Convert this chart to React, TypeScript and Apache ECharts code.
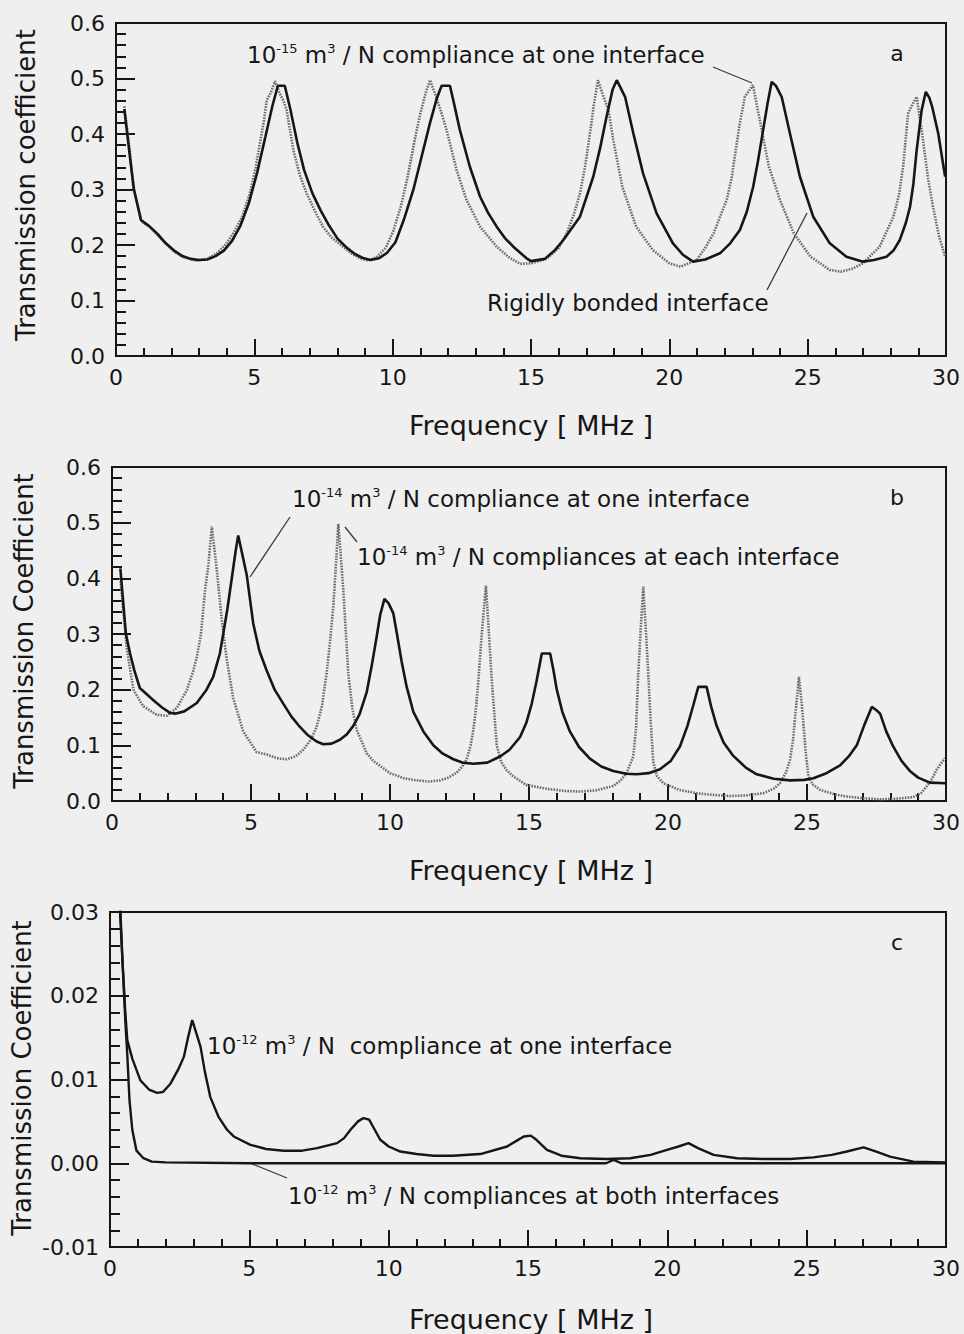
import React, { useEffect, useRef } from "react";
import * as echarts from "echarts";

// ---------- Panel a : 10^-15 compliance (dotted) vs rigidly bonded (solid) ----------
const aRigid: [number, number][] = [
  [0.3, 0.445], [0.5, 0.36], [0.65, 0.3], [0.9, 0.245], [1.2, 0.234], [1.5, 0.22], [1.8, 0.203],
  [2.1, 0.19], [2.4, 0.18], [2.7, 0.175], [3.0, 0.173], [3.3, 0.174], [3.6, 0.18], [3.9, 0.19],
  [4.2, 0.208], [4.5, 0.235], [4.8, 0.275], [5.1, 0.33], [5.4, 0.395], [5.65, 0.45], [5.85, 0.487],
  [6.1, 0.487], [6.3, 0.445], [6.55, 0.385], [6.8, 0.335], [7.1, 0.293], [7.4, 0.262], [7.7, 0.235],
  [8.0, 0.212], [8.3, 0.197], [8.6, 0.185], [8.9, 0.177], [9.2, 0.173], [9.5, 0.176], [9.8, 0.186],
  [10.1, 0.205], [10.4, 0.245], [10.75, 0.3], [11.05, 0.36], [11.35, 0.42], [11.6, 0.465], [11.77, 0.487],
  [12.07, 0.487], [12.19, 0.461], [12.43, 0.407], [12.79, 0.341], [13.16, 0.287], [13.45, 0.258],
  [13.76, 0.233], [14.05, 0.213], [14.36, 0.197], [14.84, 0.176], [15.0, 0.171], [15.5, 0.175],
  [15.85, 0.19], [16.17, 0.209], [16.77, 0.251], [17.25, 0.323], [17.5, 0.375], [17.73, 0.431],
  [17.95, 0.48], [18.1, 0.497], [18.4, 0.467], [18.7, 0.401], [19.05, 0.329], [19.54, 0.257],
  [20.13, 0.203], [20.5, 0.182], [20.86, 0.17], [21.3, 0.174], [21.83, 0.185], [22.2, 0.203],
  [22.55, 0.227], [22.8, 0.26], [23.03, 0.305], [23.2, 0.35], [23.39, 0.407], [23.55, 0.455],
  [23.7, 0.494], [23.85, 0.487], [24.06, 0.467], [24.36, 0.401], [24.72, 0.323], [25.2, 0.251],
  [25.8, 0.203], [26.4, 0.179], [27.0, 0.17], [27.4, 0.173], [27.85, 0.179], [28.1, 0.19],
  [28.33, 0.209], [28.55, 0.24], [28.7, 0.269], [28.82, 0.31], [28.94, 0.371], [29.05, 0.415],
  [29.12, 0.443], [29.27, 0.476], [29.4, 0.465], [29.5, 0.449], [29.72, 0.401], [29.85, 0.36],
  [29.97, 0.323],
];
const aCompliance: [number, number][] = [
  [0.3, 0.45], [0.5, 0.37], [0.62, 0.305], [0.93, 0.242], [1.23, 0.232], [1.5, 0.218], [1.83, 0.201],
  [2.1, 0.188], [2.43, 0.178], [2.9, 0.172], [3.3, 0.175], [3.64, 0.185], [3.95, 0.2], [4.24, 0.221],
  [4.55, 0.25], [4.84, 0.293], [5.05, 0.34], [5.2, 0.383], [5.35, 0.425], [5.45, 0.461], [5.6, 0.475],
  [5.75, 0.495], [5.9, 0.475], [6.05, 0.46], [6.17, 0.443], [6.41, 0.371], [6.65, 0.325],
  [6.89, 0.293], [7.2, 0.26], [7.48, 0.233], [7.8, 0.213], [8.2, 0.197], [8.5, 0.185], [8.82, 0.176],
  [9.1, 0.172], [9.42, 0.178], [9.75, 0.195], [10.02, 0.225], [10.3, 0.27], [10.55, 0.325], [10.8, 0.39],
  [11.0, 0.437], [11.2, 0.475], [11.35, 0.497], [11.55, 0.47], [11.75, 0.44], [11.95, 0.407],
  [12.31, 0.335], [12.67, 0.281], [13.16, 0.233], [13.76, 0.197], [14.2, 0.178], [14.6, 0.166],
  [15.0, 0.167], [15.56, 0.175], [16.0, 0.195], [16.29, 0.221], [16.55, 0.255], [16.77, 0.293],
  [16.95, 0.34], [17.13, 0.401], [17.28, 0.455], [17.42, 0.497], [17.6, 0.47], [17.8, 0.443],
  [17.97, 0.39], [18.3, 0.305], [18.8, 0.233], [19.4, 0.191], [20.0, 0.167], [20.4, 0.161],
  [20.99, 0.173], [21.3, 0.195], [21.6, 0.221], [22.07, 0.281], [22.25, 0.32], [22.4, 0.371],
  [22.55, 0.42], [22.73, 0.467], [23.02, 0.488], [23.27, 0.425], [23.6, 0.341], [24.0, 0.281],
  [24.5, 0.221], [25.1, 0.179], [25.8, 0.155], [26.2, 0.152], [26.6, 0.157], [27.0, 0.167],
  [27.6, 0.197], [28.1, 0.251], [28.3, 0.29], [28.45, 0.341], [28.63, 0.437], [28.8, 0.455],
  [28.94, 0.467], [29.17, 0.389], [29.35, 0.32], [29.53, 0.269], [29.75, 0.215], [29.97, 0.179],
];

// ---------- Panel b : 10^-14 at one interface (solid) / at each interface (dotted) ----------
const bOne: [number, number][] = [
  [0.3, 0.418], [0.5, 0.3], [0.65, 0.265], [0.8, 0.235], [1.0, 0.203], [1.49, 0.181], [1.8, 0.168],
  [2.1, 0.158], [2.3, 0.157], [2.6, 0.161], [3.05, 0.176], [3.4, 0.2], [3.64, 0.223], [3.88, 0.265],
  [4.0, 0.3], [4.15, 0.345], [4.3, 0.397], [4.45, 0.45], [4.54, 0.477], [4.7, 0.44], [4.85, 0.405],
  [5.08, 0.319], [5.3, 0.27], [5.56, 0.235], [5.85, 0.2], [6.16, 0.175], [6.45, 0.152], [6.76, 0.133],
  [7.05, 0.118], [7.36, 0.107], [7.6, 0.102], [7.9, 0.103], [8.2, 0.11], [8.45, 0.12], [8.68, 0.135],
  [8.9, 0.155], [9.16, 0.195], [9.35, 0.245], [9.52, 0.295], [9.65, 0.335], [9.8, 0.363],
  [9.95, 0.355], [10.12, 0.337], [10.25, 0.3], [10.42, 0.25], [10.6, 0.205], [10.84, 0.16],
  [11.2, 0.125], [11.56, 0.1], [11.9, 0.085], [12.28, 0.075], [12.6, 0.069], [13.0, 0.067],
  [13.5, 0.069], [13.96, 0.08], [14.3, 0.092], [14.68, 0.115], [14.9, 0.14], [15.1, 0.175],
  [15.27, 0.215], [15.46, 0.265], [15.76, 0.265], [15.88, 0.235], [16.0, 0.2], [16.2, 0.16],
  [16.47, 0.125], [16.8, 0.097], [17.19, 0.076], [17.6, 0.062], [18.03, 0.054], [18.5, 0.049],
  [18.87, 0.048], [19.3, 0.05], [19.71, 0.057], [20.1, 0.072], [20.43, 0.098], [20.7, 0.135],
  [20.91, 0.172], [21.09, 0.205], [21.39, 0.205], [21.55, 0.17], [21.75, 0.135], [22.0, 0.105],
  [22.35, 0.081], [22.8, 0.06], [23.19, 0.048], [23.8, 0.04], [24.39, 0.037], [24.9, 0.038],
  [25.23, 0.041], [25.7, 0.05], [26.19, 0.064], [26.5, 0.08], [26.79, 0.1], [27.05, 0.135],
  [27.33, 0.169], [27.5, 0.163], [27.63, 0.157], [27.85, 0.125], [28.1, 0.098], [28.4, 0.072],
  [28.7, 0.054], [29.0, 0.042], [29.42, 0.033], [30.0, 0.032],
];
const bEach: [number, number][] = [
  [0.3, 0.4], [0.53, 0.275], [0.77, 0.2], [1.0, 0.18], [1.13, 0.17], [1.6, 0.155], [1.97, 0.153],
  [2.33, 0.167], [2.69, 0.199], [2.9, 0.23], [3.05, 0.258], [3.2, 0.3], [3.35, 0.38], [3.47, 0.425],
  [3.59, 0.493], [3.77, 0.415], [3.95, 0.325], [4.13, 0.253], [4.36, 0.185], [4.72, 0.125],
  [5.2, 0.088], [5.6, 0.083], [5.92, 0.077], [6.28, 0.075], [6.6, 0.08], [6.88, 0.092], [7.15, 0.11],
  [7.36, 0.133], [7.55, 0.17], [7.72, 0.229], [7.85, 0.29], [7.96, 0.349], [8.05, 0.42],
  [8.14, 0.498], [8.23, 0.44], [8.32, 0.379], [8.5, 0.229], [8.65, 0.165], [8.8, 0.128],
  [9.16, 0.086], [9.4, 0.072], [10.0, 0.05], [10.5, 0.041], [10.96, 0.037], [11.4, 0.035],
  [11.8, 0.037], [12.1, 0.042], [12.4, 0.051], [12.6, 0.062], [12.76, 0.075], [12.9, 0.1],
  [13.0, 0.128], [13.1, 0.17], [13.18, 0.217], [13.3, 0.3], [13.45, 0.387], [13.56, 0.3],
  [13.66, 0.217], [13.84, 0.1], [14.0, 0.07], [14.2, 0.055], [14.44, 0.044], [14.9, 0.029],
  [15.64, 0.022], [16.3, 0.018], [16.83, 0.017], [17.4, 0.019], [18.03, 0.027], [18.3, 0.037],
  [18.51, 0.05], [18.75, 0.08], [18.85, 0.13], [18.93, 0.229], [19.02, 0.31], [19.11, 0.385],
  [19.2, 0.31], [19.29, 0.229], [19.38, 0.14], [19.47, 0.07], [19.6, 0.045], [19.83, 0.032],
  [20.4, 0.02], [21.03, 0.014], [21.6, 0.011], [22.23, 0.009], [22.8, 0.01], [23.43, 0.014],
  [23.8, 0.022], [24.03, 0.032], [24.25, 0.052], [24.39, 0.074], [24.5, 0.11], [24.57, 0.151],
  [24.65, 0.19], [24.71, 0.223], [24.8, 0.18], [24.87, 0.139], [24.95, 0.09], [25.05, 0.044],
  [25.2, 0.03], [25.47, 0.02], [26.0, 0.012], [26.43, 0.008], [27.0, 0.005], [27.63, 0.003],
  [28.2, 0.004], [28.82, 0.007], [29.1, 0.014], [29.3, 0.026], [29.5, 0.04], [29.66, 0.056],
  [29.8, 0.066], [29.96, 0.077],
];

// ---------- Panel c : 10^-12 at one interface / at both interfaces ----------
const cOne: [number, number][] = [
  [0.3, 0.034], [0.45, 0.024], [0.55, 0.018], [0.62, 0.0147], [0.8, 0.0125], [1.09, 0.0099],
  [1.4, 0.0088], [1.69, 0.0084], [1.9, 0.0085], [2.17, 0.0095], [2.45, 0.0112], [2.65, 0.0127],
  [2.8, 0.015], [2.95, 0.0171], [3.1, 0.0155], [3.25, 0.0139], [3.4, 0.011], [3.6, 0.0079],
  [3.9, 0.0055], [4.2, 0.004], [4.44, 0.0032], [5.04, 0.0022], [5.6, 0.0017], [6.23, 0.0015],
  [6.9, 0.0015], [7.43, 0.0018], [8.15, 0.0024], [8.4, 0.003], [8.63, 0.004], [8.9, 0.005],
  [9.1, 0.0054], [9.3, 0.0052], [9.5, 0.004], [9.7, 0.0028], [10.0, 0.002], [10.42, 0.0014],
  [11.0, 0.0011], [11.61, 0.0009], [12.3, 0.0009], [13.29, 0.0011], [14.25, 0.002], [14.6, 0.0027],
  [14.85, 0.0032], [15.1, 0.0033], [15.3, 0.0028], [15.68, 0.0016], [16.2, 0.0009], [16.88, 0.0006],
  [17.8, 0.0005], [18.67, 0.0006], [19.4, 0.001], [19.99, 0.0016], [20.4, 0.002], [20.76, 0.0024],
  [21.1, 0.0018], [21.66, 0.001], [22.5, 0.0006], [23.45, 0.0005], [24.4, 0.0005], [25.24, 0.0007],
  [25.9, 0.001], [26.44, 0.0014], [27.04, 0.0019], [27.5, 0.0014], [27.99, 0.0008], [28.83, 0.0002],
  [30.0, 0.0001],
];
const cBoth: [number, number][] = [
  [0.3, 0.036], [0.45, 0.024], [0.55, 0.017], [0.62, 0.013], [0.7, 0.0075], [0.8, 0.004],
  [0.95, 0.0015], [1.2, 0.0006], [1.5, 0.0002], [2.0, 0.0001], [5.0, 0.0], [10.0, 0.0], [15.0, 0.0],
  [17.8, 0.0], [18.07, 0.0004], [18.35, 0.0], [22.0, 0.0], [26.0, 0.0], [30.0, 0.0],
];

const FONT = '"DejaVu Sans", "Liberation Sans", sans-serif';
const INK = "#161616";
const GRAYDOT = "#6c6c6c";

const grids = [
  { left: 116, top: 23, width: 830, height: 333 },
  { left: 112, top: 467, width: 834, height: 334 },
  { left: 110, top: 912, width: 836, height: 335 },
];
const yRanges = [
  { min: 0, max: 0.6, interval: 0.1, digits: 1 },
  { min: 0, max: 0.6, interval: 0.1, digits: 1 },
  { min: -0.01, max: 0.03, interval: 0.01, digits: 2 },
];

export default function App() {
  const ref = useRef<HTMLDivElement>(null);
  useEffect(() => {
    if (!ref.current) return;
    const chart = echarts.init(ref.current, undefined, { renderer: "svg" });

    const xAxes = grids.map((_, i) => ({
      type: "value",
      gridIndex: i,
      min: 0,
      max: 30,
      interval: 5,
      axisLine: { show: true, onZero: false, lineStyle: { color: INK, width: 2 } },
      axisTick: { show: true, inside: true, length: 17, lineStyle: { color: INK, width: 2 } },
      minorTick: { show: true, splitNumber: 5, length: 8, lineStyle: { color: INK, width: 2 } },
      splitLine: { show: false },
      axisLabel: { color: INK, fontFamily: FONT, fontSize: 22, margin: 10 },
    }));
    const yAxes = yRanges.map((r, i) => ({
      type: "value",
      gridIndex: i,
      min: r.min,
      max: r.max,
      interval: r.interval,
      axisLine: { show: true, onZero: false, lineStyle: { color: INK, width: 2 } },
      axisTick: { show: true, inside: true, length: 19, lineStyle: { color: INK, width: 2 } },
      minorTick: { show: true, splitNumber: 5, length: 10, lineStyle: { color: INK, width: 2 } },
      splitLine: { show: false },
      axisLabel: {
        color: INK,
        fontFamily: FONT,
        fontSize: 22,
        margin: 11,
        formatter: (v: number) => v.toFixed(r.digits),
      },
    }));

    const solid = (data: [number, number][], idx: number, w = 2.6) => ({
      type: "line",
      xAxisIndex: idx,
      yAxisIndex: idx,
      data,
      showSymbol: false,
      symbol: "none",
      smooth: false,
      clip: true,
      lineStyle: { color: INK, width: w },
      z: 3,
    });
    const dotted = (data: [number, number][], idx: number) => ({
      type: "line",
      xAxisIndex: idx,
      yAxisIndex: idx,
      data,
      showSymbol: false,
      symbol: "none",
      smooth: false,
      clip: true,
      lineStyle: { color: GRAYDOT, width: 2.6, type: [1.6, 1.2] },
      z: 2,
    });

    const supStyle = { fontSize: 13, lineHeight: 16, verticalAlign: "top", fontFamily: FONT, fill: INK };
    const note = (x: number, y: number, text: string, fontSize = 23) => ({
      type: "text",
      x,
      y,
      silent: true,
      style: {
        text,
        fill: INK,
        fontSize,
        fontFamily: FONT,
        lineHeight: 26,
        textAlign: "left",
        textVerticalAlign: "middle",
        align: "left",
        verticalAlign: "middle",
        rich: { sup: supStyle },
      },
    });
    const centered = (x: number, y: number, text: string, fontSize: number, rotation = 0) => ({
      type: "text",
      x,
      y,
      rotation,
      silent: true,
      style: {
        text,
        fill: INK,
        fontSize,
        fontFamily: FONT,
        textAlign: "center",
        textVerticalAlign: "middle",
        align: "center",
        verticalAlign: "middle",
      },
    });
    const leader = (x1: number, y1: number, x2: number, y2: number) => ({
      type: "line",
      silent: true,
      shape: { x1, y1, x2, y2 },
      style: { stroke: "#3a3a3a", lineWidth: 1.3 },
    });

    const option = {
      animation: false,
      backgroundColor: "#efefef",
      grid: grids.map((g) => ({
        ...g,
        show: true,
        borderColor: INK,
        borderWidth: 2,
        backgroundColor: "transparent",
        containLabel: false,
      })),
      xAxis: xAxes,
      yAxis: yAxes,
      series: [
        dotted(aCompliance, 0),
        solid(aRigid, 0),
        dotted(bEach, 1),
        solid(bOne, 1),
        solid(cOne, 2, 2.4),
        solid(cBoth, 2, 2.4),
      ],
      graphic: [
        // axis names
        centered(26, 185, "Transmission coefficient", 26, Math.PI / 2),
        centered(24, 631, "Transmission Coefficient", 26, Math.PI / 2),
        centered(22, 1078, "Transmission Coefficient", 26, Math.PI / 2),
        centered(531, 425, "Frequency [ MHz ]", 27),
        centered(531, 870, "Frequency [ MHz ]", 27),
        centered(531, 1319, "Frequency [ MHz ]", 27),
        // panel letters
        centered(897, 53, "a", 22),
        centered(897, 497, "b", 22),
        centered(897, 942, "c", 22),
        // panel a notes
        note(247, 55, "10{sup|-15} m{sup|3} / N compliance at one interface"),
        leader(713, 67, 752, 83),
        note(487, 303, "Rigidly bonded interface"),
        leader(767, 290, 807, 213),
        // panel b notes
        note(292, 499, "10{sup|-14} m{sup|3} / N compliance at one interface"),
        leader(290, 517, 250, 577),
        note(357, 557, "10{sup|-14} m{sup|3} / N compliances at each interface"),
        leader(345, 527, 357, 542),
        // panel c notes
        note(207, 1046, "10{sup|-12} m{sup|3} / N  compliance at one interface"),
        note(288, 1196, "10{sup|-12} m{sup|3} / N compliances at both interfaces"),
        leader(250, 1163, 287, 1178),
      ],
    };

    chart.setOption(option as any);
    return () => chart.dispose();
  }, []);

  return (
    <div
      ref={ref}
      style={{ position: "absolute", left: 0, top: 0, width: 964, height: 1334, background: "#efefef" }}
    />
  );
}
